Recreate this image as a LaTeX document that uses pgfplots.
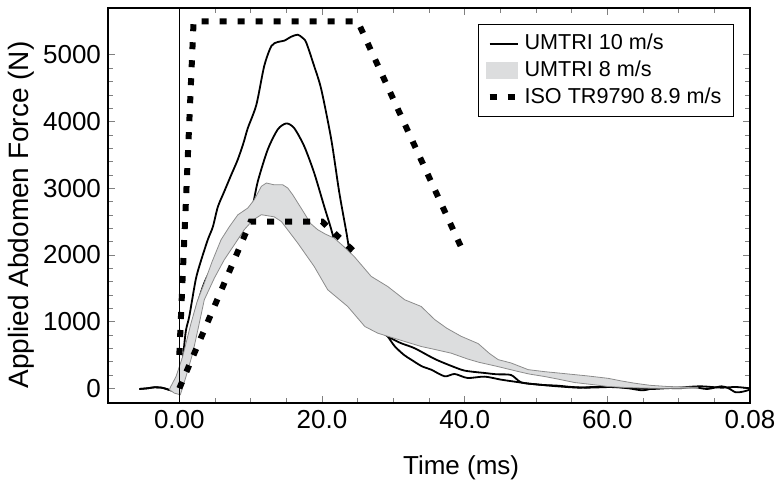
\documentclass[border=0pt]{standalone}
\usepackage{fontspec}
\setmainfont{Liberation Sans}
\usepackage{pgfplots}
\pgfplotsset{compat=1.18}
\definecolor{bandgray}{HTML}{DCDDDE}
\definecolor{bandedge}{HTML}{8C8C8C}

\begin{document}
\begin{tikzpicture}
\begin{axis}[
  name=ax,
  width=321pt, height=197.5pt, scale only axis,
  xmin=-10, xmax=80, ymin=-220, ymax=5700,
  xtick={0,20,40,60,80},
  xticklabels={0.00,20.0,40.0,60.0,0.08},
  ytick={0,1000,2000,3000,4000,5000},
  minor x tick num=3, minor y tick num=4,
  tick align=inside,
  major tick length=3.5pt, minor tick length=2.5pt,
  scaled y ticks=false,
  /pgf/number format/1000 sep={},
  /pgf/number format/assume math mode=true,
  tick label style={font=\fontsize{13}{15}\selectfont},
  xlabel={Time (ms)}, ylabel={Applied Abdomen Force (N)},
  xlabel style={font=\fontsize{13}{15}\selectfont, at={(rel axis cs:0.55,0)}, anchor=north, yshift=-23pt},
  ylabel style={font=\fontsize{14}{16}\selectfont, at={(rel axis cs:0,0.476)}, anchor=north, yshift=53.5pt},
  axis line style={line width=0.6pt},
  legend cell align=left,
  legend style={at={(rel axis cs:0.975,0.96)}, anchor=north east,
    draw=black, line width=0.5pt, font=\fontsize{10.8}{13}\selectfont,
    inner xsep=4pt, inner ysep=3pt},
  legend image code/.code={\draw[#1] (2pt,0pt) -- (16pt,0pt);},
]
% UMTRI 10 m/s, two tests
\addplot[black, line width=0.9pt, smooth, tension=0.45] coordinates {
(-5.6,-10) (-4.5,0) (-3.5,15) (-2.5,10) (-1.8,-10) (-1.2,-30) (-0.5,-40) (0,0)
(0.4,350) (0.9,850) (1.4,1080) (2.3,1630) (3,1900) (4,2230) (4.7,2420) (5.4,2720)
(6.3,2950) (7.2,3180) (8.2,3430) (9,3680) (9.6,3900) (10.8,4250) (11.9,4830)
(12.9,5130) (13.8,5190) (14.7,5210) (15.7,5270) (16.6,5300) (17.3,5250) (17.8,5180)
(18.9,4830) (19.9,4480) (21.3,3730) (22.4,2950) (23.4,2350) (24,1980) (25,1650)
(26.5,1250) (28,950) (29.2,780) (30.2,630) (31.5,500) (32.5,430) (34,330) (35.3,280)
(37.2,180) (38.6,215) (40.4,155) (42.8,175) (45.1,130) (47,100) (49,70) (51,50)
(53,40) (55,20) (57,10) (59,15) (61,20) (63,0) (65,-30) (67,10) (70,0) (72,20)
(74,-10) (76,30) (77,0) (78,-60) (79,-50) (80,-20)};
\addlegendentry{UMTRI 10 m/s}
\addplot[black, line width=0.9pt, smooth, tension=0.45, forget plot] coordinates {
(-5.6,-10) (-4.5,0) (-3.5,15) (-2.5,10) (-1.8,-10) (-1.2,-30) (-0.5,-40) (0,0)
(0.8,350) (1.64,877) (2.5,1250) (3.5,1580) (4.9,1877) (6.5,2080) (8.2,2252)
(9.0,2400) (10.1,2650) (11,3100) (12.4,3580) (13.8,3880) (15,3970) (16.1,3900)
(17.5,3630) (18.9,3230) (20.3,2730) (21.3,2380) (22.7,1830) (24,1450) (25.5,1150)
(27,950) (29.2,780) (31,680) (33,600) (36,430) (39.5,280) (41,250) (42.8,230)
(44.5,210) (46.5,200) (47.9,90) (50,60) (53,30) (56,10) (58,20) (60,20) (63,10)
(66,-10) (68,0) (70,10) (73,30) (76,10) (78,20) (80,0)};
% UMTRI 8 m/s corridor
\addplot[draw=bandedge, line width=0.4pt, fill=bandgray, area legend,
  legend image code/.code={\fill[bandgray] (0.5pt,-4pt) rectangle (16pt,4pt);}]
coordinates {
(-1.4,-20) (-1.2,27) (-0.46,177) (0.47,477) (1.64,977) (2.5,1300) (3.5,1577)
(4.6,1900) (5.85,2227) (7,2420) (8.2,2600) (9.6,2702) (10.5,2827) (11.5,3027)
(12.2,3077) (13.3,3050) (14.5,3050) (15.2,3002) (15.9,2900) (17.5,2628) (18.4,2470)
(19.4,2377) (20.5,2310) (21.7,2252) (23,2130) (24.5,1977) (26.9,1677) (29.2,1527)
(31.6,1327) (33.9,1227) (35.8,1030) (37.5,900) (39.5,780) (41.9,670) (43.5,520)
(44.7,430) (46.5,380) (48.9,280) (51.2,250) (54.5,215) (57.3,185) (60.1,150)
(62,110) (63.8,77) (66,45) (68.5,27) (72.7,15)
(72.7,0) (68,0) (66.2,2) (63,10) (60.1,27) (58,55) (55.4,87) (53,140) (51.2,177)
(49,215) (47.5,252) (44.5,330) (42,390) (40.4,440) (38.1,527) (35.5,590) (33.9,627)
(31.6,702) (27.8,827) (26,927) (23.6,1227) (20.8,1477) (18.9,1827) (16.6,2177)
(14.3,2500) (13.3,2570) (11.5,2602) (10.3,2520) (9.1,2377) (7.7,2150) (6.3,1927)
(4.9,1650) (3.5,1327) (2.6,877) (1.88,527) (0.94,177) (0.14,-97) (-0.7,-72) (-1.4,-20)};
\addlegendentry{UMTRI 8 m/s}
% ISO TR9790 corridor
\addplot[black, line width=3pt, dash pattern=on 3.5pt off 5.5pt] coordinates {
(0,500) (2,5500) (25,5500) (40,2000)};
\addlegendentry{ISO TR9790 8.9 m/s}
\addplot[black, line width=3pt, dash pattern=on 3.5pt off 5.5pt, forget plot] coordinates {
(0,0) (10,2500) (20,2500) (25,2000)};
\addplot[black, line width=0.5pt, forget plot] coordinates {(0,-220) (0,5700)};
\end{axis}
\pgfresetboundingbox
\path[use as bounding box] ([xshift=-54pt, yshift=-41.5pt]ax.south west)
  rectangle ([xshift=12.5pt, yshift=4pt]ax.north east);
\end{tikzpicture}
\end{document}
